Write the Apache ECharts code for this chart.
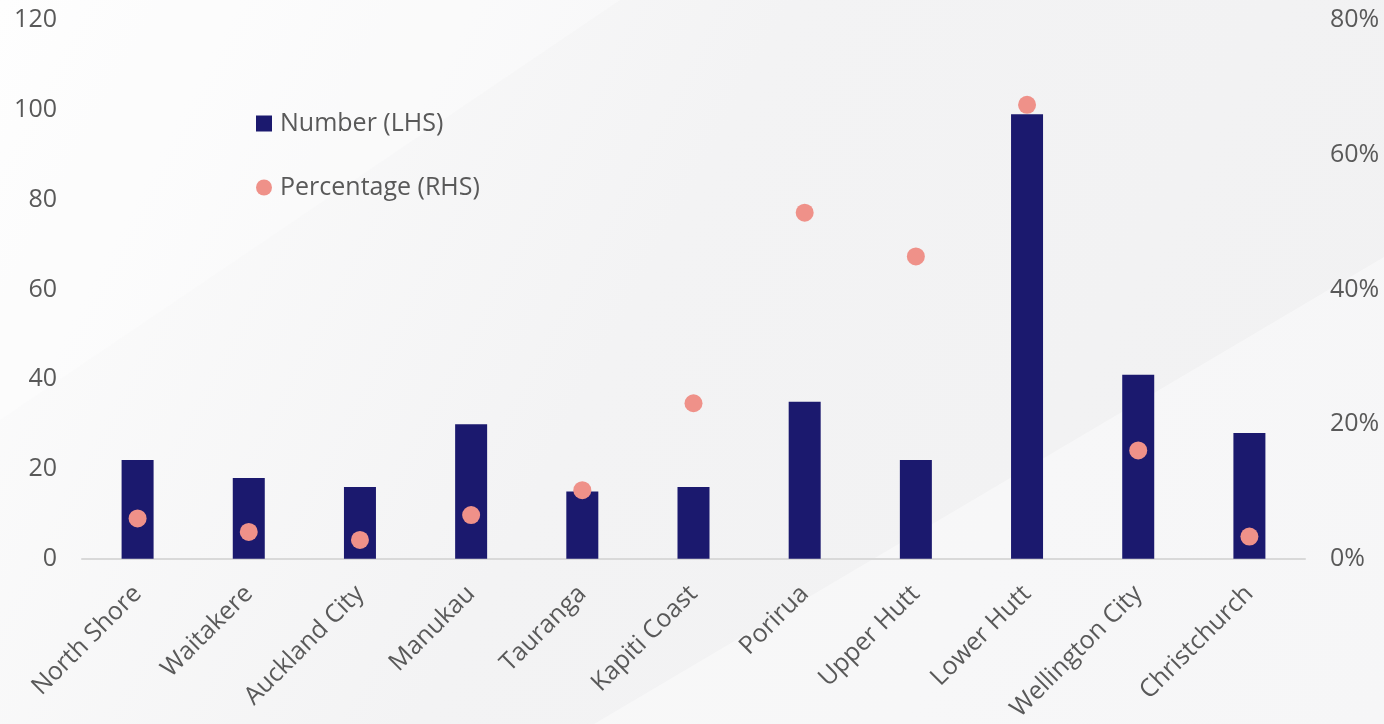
<!DOCTYPE html>
<html>
<head>
<meta charset="utf-8">
<script src="https://cdn.jsdelivr.net/npm/echarts@6/dist/echarts.min.js"></script>
<style>
  html, body { margin: 0; padding: 0; background: #f3f3f4; }
  #chart { width: 1384px; height: 724px; }
</style>
</head>
<body>
<div id="chart"></div>
<script>
// Districts along the category axis
const districts = ['North Shore', 'Waitakere', 'Auckland City', 'Manukau', 'Tauranga',
  'Kapiti Coast', 'Porirua', 'Upper Hutt', 'Lower Hutt', 'Wellington City', 'Christchurch'];
// Count per district (left axis)
const numbers = [22, 18, 16, 30, 15, 16, 35, 22, 99, 41, 28];
// Share per district, in percent (right axis)
const percentages = [6.0, 4.0, 2.8, 6.5, 10.2, 23.1, 51.4, 44.9, 67.4, 16.1, 3.3];
// Axis ticks
const leftTicks = [0, 20, 40, 60, 80, 100, 120];
const rightTicks = [0, 20, 40, 60, 80];

const textColor = '#595959';
const fontFamily = '"Open Sans", "Noto Sans", sans-serif';

const chart = echarts.init(document.getElementById('chart'), null, { renderer: 'canvas' });

chart.setOption({
  backgroundColor: {
    type: 'linear', x: 0, y: 0, x2: 1, y2: 1,
    colorStops: [
      { offset: 0, color: '#fdfdfd' },
      { offset: 0.45, color: '#f3f3f4' },
      { offset: 1, color: '#f1f1f2' }
    ]
  },
  graphic: [
    {
      // lighter diagonal band in the lower right
      type: 'polygon', silent: true, z: -1,
      shape: { points: [[594, 724], [1384, 257], [1384, 724]] },
      style: { fill: 'rgba(255,255,255,0.4)' }
    },
    {
      // soft highlight in the upper left
      type: 'polygon', silent: true, z: -1,
      shape: { points: [[0, 0], [620, 0], [0, 420]] },
      style: { fill: 'rgba(255,255,255,0.35)' }
    }
  ],
  textStyle: { fontFamily: fontFamily },
  animation: false,
  grid: { left: 82, right: 79, top: 20, bottom: 164 },
  legend: {
    orient: 'vertical',
    left: 256,
    top: 111,
    padding: 0,
    itemWidth: 16,
    itemHeight: 16,
    itemGap: 39,
    textStyle: { color: textColor, fontSize: 25, fontFamily: fontFamily, padding: [0, 0, 0, 3] },
    data: [
      { name: 'Number (LHS)', icon: 'rect' },
      { name: 'Percentage (RHS)', icon: 'circle' }
    ]
  },
  xAxis: {
    type: 'category',
    data: districts,
    axisLine: { lineStyle: { color: '#d9d9d9', width: 2 } },
    axisTick: { show: false },
    axisLabel: {
      rotate: 45,
      interval: 0,
      margin: 31,
      color: textColor,
      fontSize: 25,
      fontFamily: fontFamily
    }
  },
  yAxis: [
    {
      type: 'value',
      min: leftTicks[0],
      max: leftTicks[leftTicks.length - 1],
      interval: leftTicks[1] - leftTicks[0],
      splitLine: { show: false },
      axisLine: { show: false },
      axisTick: { show: false },
      axisLabel: { color: textColor, fontSize: 25, margin: 25, fontFamily: fontFamily }
    },
    {
      type: 'value',
      min: rightTicks[0],
      max: rightTicks[rightTicks.length - 1],
      interval: rightTicks[1] - rightTicks[0],
      splitLine: { show: false },
      axisLine: { show: false },
      axisTick: { show: false },
      axisLabel: {
        color: textColor, fontSize: 25, margin: 25, fontFamily: fontFamily,
        formatter: v => v + '%'
      }
    }
  ],
  series: [
    {
      name: 'Number (LHS)',
      type: 'bar',
      yAxisIndex: 0,
      data: numbers,
      barWidth: 32,
      itemStyle: { color: '#1b196e' }
    },
    {
      name: 'Percentage (RHS)',
      type: 'scatter',
      yAxisIndex: 1,
      data: percentages,
      symbol: 'circle',
      symbolSize: 18,
      itemStyle: { color: '#ef9189', opacity: 1 },
      z: 3
    }
  ]
});
</script>
</body>
</html>
